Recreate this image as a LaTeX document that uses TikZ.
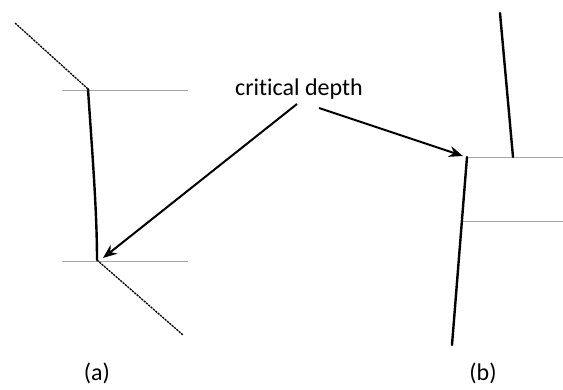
\documentclass[tikz,border=0pt]{standalone}
\usepackage{fontspec}
\setmainfont[Ligatures=NoCommon]{Carlito}
\usetikzlibrary{arrows.meta}
\begin{document}
\begin{tikzpicture}[x=1pt,y=-1pt,
  level/.style={draw=gray!70, line width=1pt},
  surface/.style={line width=2.4pt, line cap=round},
  jump/.style={line width=1.3pt, dash pattern=on 2.2pt off 0.9pt},
  pointer/.style={line width=2pt, -{Stealth[length=14pt,width=11pt]}},
  lab/.style={font=\fontsize{24}{28}\selectfont, inner sep=0pt}]
\useasboundingbox (0,0) rectangle (563,389);
% panel (a)
\coordinate (a1) at (15,23);
\coordinate (a2) at (88,89);
\coordinate (a3) at (97,260);
\coordinate (a4) at (183,335);
\coordinate (la1) at (62,90);  \coordinate (la2) at (188,90);
\coordinate (lb1) at (62,261); \coordinate (lb2) at (188,261);
\draw[level] (la1) -- (la2);
\draw[level] (lb1) -- (lb2);
\draw[jump] (a1) -- (a2);
\draw[surface] (a2) .. controls (92,150) and (97,210) .. (a3);
\draw[jump] (a3) -- (a4);
% panel (b)
\coordinate (b1) at (500,13);
\coordinate (b2) at (513,157);
\coordinate (b3) at (467,157);
\coordinate (b4) at (452,345);
\coordinate (lc1) at (467,157); \coordinate (lc2) at (563,157);
\coordinate (ld1) at (463,221); \coordinate (ld2) at (563,221);
\draw[level] (lc1) -- (lc2);
\draw[level] (ld1) -- (ld2);
\draw[surface] (b1) -- (b2);
\draw[surface] (b3) -- (b4);
% labels
\node[lab] (cd) at (299,89) {critical depth};
\node[lab] (la) at (97,373) {(a)};
\node[lab] (lb) at (483,373) {(b)};
\coordinate (s1) at (297,104);
\coordinate (s2) at (319,108);
\coordinate (t1) at (103,258);
\coordinate (t2) at (463,156);
\draw[pointer] (s1) -- (t1);
\draw[pointer] (s2) -- (t2);
\end{tikzpicture}
\end{document}
